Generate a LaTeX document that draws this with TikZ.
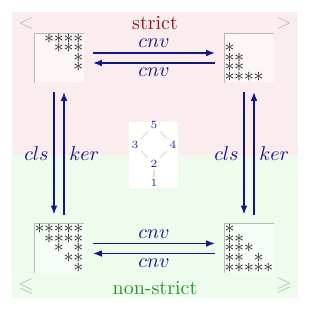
\documentclass[tikz,border=0pt]{standalone}
\usepackage{amssymb}
\usetikzlibrary{arrows.meta}
\definecolor{bgpink}{RGB}{251,237,237}
\definecolor{bggreen}{RGB}{238,252,238}
\definecolor{arrblue}{RGB}{20,20,140}
\definecolor{strictred}{RGB}{150,20,35}
\definecolor{nsgreen}{RGB}{40,150,40}
\definecolor{numblue}{RGB}{50,40,140}
\begin{document}
\begin{tikzpicture}[x=0.5pt,y=-0.5pt,
  matbox/.style={minimum width=24.5pt,minimum height=24.5pt,inner sep=0pt,fill=white,fill opacity=0.5},
  frame/.style={draw=gray!55,line width=0.4pt},
  starnode/.style={inner sep=0pt,text=black!85},
  arr/.style={draw=arrblue,line width=0.75pt,-{Latex[length=4.5pt,width=3.4pt]},shorten <=4.5pt,shorten >=4.5pt},
  lab/.style={text=arrblue,inner sep=2.3pt},
  rel/.style={text=gray!55,inner sep=0pt},
  hnum/.style={text=numblue,font=\fontsize{5.5}{6}\selectfont,inner sep=1.2pt},
  hedge/.style={draw=gray!25,line width=0.6pt}]
\useasboundingbox (0,0) rectangle (310,310);
\fill[bgpink] (12,12) rectangle (298,155);
\fill[bggreen] (12,155) rectangle (298,298);
% matrices
\node[matbox] (TL) at (59,58) {};
\node[matbox] (TR) at (249,58) {};
\node[matbox] (BL) at (59,248.5) {};
\node[matbox] (BR) at (249,248.5) {};
\foreach \m in {TL,TR,BL,BR}{
  \draw[frame] (\m.north east) -- (\m.north west) -- (\m.south west);
}
\foreach \r/\c in {1/2,1/3,1/4,1/5,2/3,2/4,2/5,3/5,4/5}
  \node[starnode] (tl-\r-\c) at ({39.5+9.7*(\c-1)},{38.5+9.6*(\r-1)}) {$\ast$};
\foreach \r/\c in {2/1,3/1,3/2,4/1,4/2,5/1,5/2,5/3,5/4}
  \node[starnode] (tr-\r-\c) at ({229.5+9.7*(\c-1)},{38.5+9.6*(\r-1)}) {$\ast$};
\foreach \r/\c in {1/1,1/2,1/3,1/4,1/5,2/2,2/3,2/4,2/5,3/3,3/5,4/4,4/5,5/5}
  \node[starnode] (bl-\r-\c) at ({39.5+9.7*(\c-1)},{229+9.6*(\r-1)}) {$\ast$};
\foreach \r/\c in {1/1,2/1,2/2,3/1,3/2,3/3,4/1,4/2,4/4,5/1,5/2,5/3,5/4,5/5}
  \node[starnode] (br-\r-\c) at ({229.5+9.7*(\c-1)},{229+9.6*(\r-1)}) {$\ast$};
% titles and relation symbols
\node[text=strictred] (strict) at (155,23) {strict};
\node[text=nsgreen] (nonstrict) at (155,288) {non-strict};
\node[rel] (lt) at (26,24) {$<$};
\node[rel] (gt) at (284,24) {$>$};
\node[rel] (le) at (26,286) {$\leqslant$};
\node[rel] (ge) at (284,285) {$\geqslant$};
% arrows
\draw[arr] ([yshift=2.5pt]TL.east) -- node[lab,above]{$cnv$} ([yshift=2.5pt]TR.west);
\draw[arr] ([yshift=-2.5pt]TR.west) -- node[lab,below]{$cnv$} ([yshift=-2.5pt]TL.east);
\draw[arr] ([yshift=2.5pt]BL.east) -- node[lab,above]{$cnv$} ([yshift=2.5pt]BR.west);
\draw[arr] ([yshift=-2.5pt]BR.west) -- node[lab,below]{$cnv$} ([yshift=-2.5pt]BL.east);
\draw[arr] ([xshift=-2.5pt]TL.south) -- node[lab,left]{$cls$} ([xshift=-2.5pt]BL.north);
\draw[arr] ([xshift=2.5pt]BL.north) -- node[lab,right]{$ker$} ([xshift=2.5pt]TL.south);
\draw[arr] ([xshift=-2.5pt]TR.south) -- node[lab,left]{$cls$} ([xshift=-2.5pt]BR.north);
\draw[arr] ([xshift=2.5pt]BR.north) -- node[lab,right]{$ker$} ([xshift=2.5pt]TR.south);
% Hasse diagram
\fill[white] (129,122) rectangle (178,188);
\node[hnum] (h5) at (154,125) {5};
\node[hnum] (h3) at (135,145) {3};
\node[hnum] (h4) at (173,145) {4};
\node[hnum] (h2) at (154,164) {2};
\node[hnum] (h1) at (154,183) {1};
\draw[hedge] (h5) -- (h3);
\draw[hedge] (h5) -- (h4);
\draw[hedge] (h3) -- (h2);
\draw[hedge] (h4) -- (h2);
\draw[hedge] (h2) -- (h1);
\end{tikzpicture}
\end{document}
